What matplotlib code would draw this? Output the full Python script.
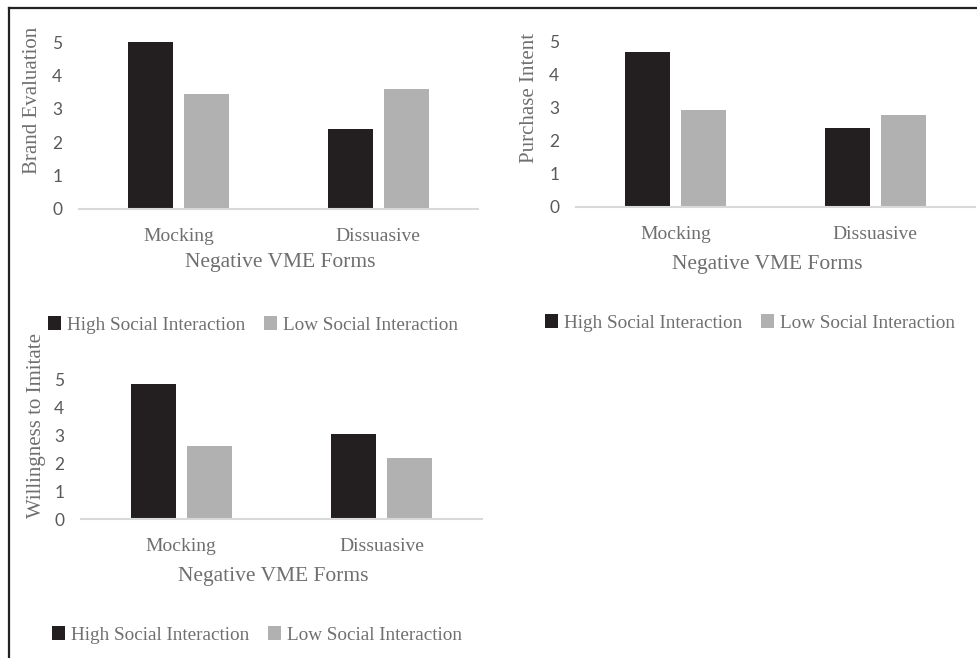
import matplotlib.pyplot as plt
from matplotlib.lines import Line2D
import numpy as np

categories = ["Mocking", "Dissuasive"]
series_names = ["High Social Interaction", "Low Social Interaction"]

brand_high = [5.00, 2.39]
brand_low = [3.44, 3.59]
purchase_high = [4.69, 2.38]
purchase_low = [2.93, 2.78]
imitate_high = [4.86, 3.06]
imitate_low = [2.63, 2.19]

y_ticks = [0, 1, 2, 3, 4, 5]

W, H = 977, 658
SERIF = "Liberation Serif"
SANS = "Lato"
TEXT_GREY = "#6f6f6f"
TICK_GREY = "#595959"
HIGH_COLOR = "#231f20"
LOW_COLOR = "#b1b1b1"


def px_axes(fig, x0, x1, y_top, y_bottom):
    return fig.add_axes([x0 / W, 1 - y_bottom / H, (x1 - x0) / W, (y_bottom - y_top) / H])


def draw_panel(fig, box, high, low, ylabel, ylabel_xy, xlabel_xy, legend_xy):
    x0, x1, yb, unit = box
    ymax = 5.5
    ax = px_axes(fig, x0, x1, yb - unit * ymax, yb)
    x = np.arange(len(categories))
    width = 0.226
    off = 0.14
    bh = ax.bar(x - off, high, width, color=HIGH_COLOR, label=series_names[0])
    bl = ax.bar(x + off, low, width, color=LOW_COLOR, label=series_names[1])
    ax.set_xlim(-0.5, 1.5)
    ax.set_ylim(0, ymax)
    ax.set_yticks(y_ticks)
    ax.set_xticks(x)
    ax.set_xticklabels(categories, fontfamily=SERIF, fontsize=14, color=TEXT_GREY)
    for lab in ax.get_yticklabels():
        lab.set_fontfamily(SANS)
        lab.set_fontsize(12.5)
        lab.set_color(TICK_GREY)
    ax.tick_params(axis="y", length=0, pad=12)
    ax.tick_params(axis="x", length=0, pad=14)
    for side in ["top", "left", "right"]:
        ax.spines[side].set_visible(False)
    ax.spines["bottom"].set_color("#d9d9d9")
    ax.spines["bottom"].set_linewidth(1.5)

    fig.text(ylabel_xy[0] / W, 1 - ylabel_xy[1] / H, ylabel, rotation=90,
             ha="center", va="center", fontfamily=SERIF, fontsize=15, color=TEXT_GREY)
    fig.text(xlabel_xy[0] / W, 1 - xlabel_xy[1] / H, "Negative VME Forms",
             ha="center", va="center", fontfamily=SERIF, fontsize=15.5, color=TEXT_GREY)
    fig.legend(handles=[bh, bl], loc="center left",
               bbox_to_anchor=(legend_xy[0] / W, 1 - legend_xy[1] / H),
               ncol=2, frameon=False, borderpad=0, borderaxespad=0,
               handlelength=0.7, handleheight=0.7, handletextpad=0.3,
               columnspacing=0.95,
               prop={"family": SERIF, "size": 13.8}, labelcolor=TEXT_GREY)
    return ax


fig = plt.figure(figsize=(W / 100, H / 100), dpi=100)

draw_panel(fig, (79, 478, 208.7, 33.3), brand_high, brand_low, "Brand Evaluation",
           (33, 100), (280, 263), (48, 325))
draw_panel(fig, (576, 975, 206.7, 33.0), purchase_high, purchase_low, "Purchase Intent",
           (530, 98), (767, 265), (545, 323))
draw_panel(fig, (81, 482, 519, 27.8), imitate_high, imitate_low, "Willingness to Imitate",
           (37, 425), (273, 577), (52, 635))

# frame lines along the top and left edge
fig.add_artist(Line2D([8.5 / W, 1], [1 - 7.5 / H, 1 - 7.5 / H], color="#222222", lw=1.6))
fig.add_artist(Line2D([8.5 / W, 8.5 / W], [0, 1 - 7.5 / H], color="#222222", lw=1.6))

fig.savefig("out.png", dpi=100)
